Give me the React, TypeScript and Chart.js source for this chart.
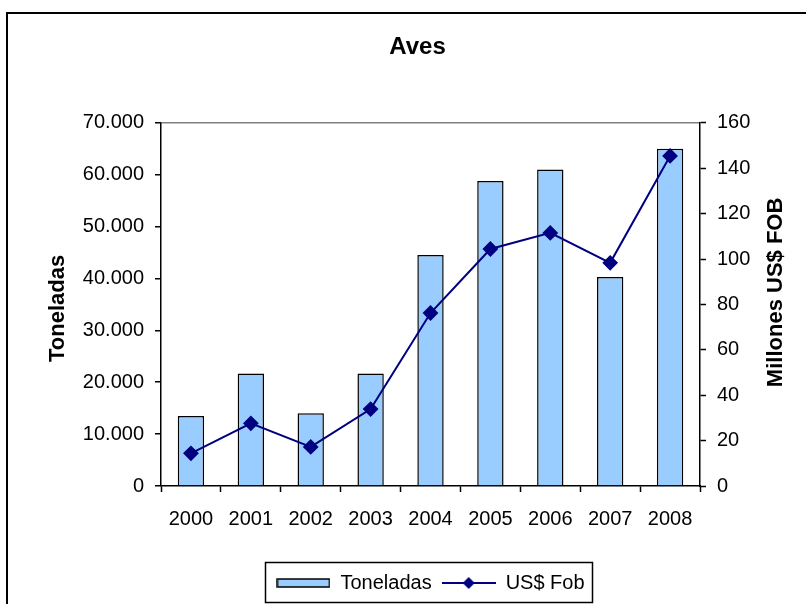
import { useEffect, useRef } from 'react';
import { Chart, registerables } from 'chart.js';

Chart.register(...registerables);

const chartTitle = 'Aves';
const years = ['2000', '2001', '2002', '2003', '2004', '2005', '2006', '2007', '2008'];
const toneladas = [13500, 21700, 14000, 21700, 44500, 58800, 61000, 40300, 65000];
const usdFob = [14.4, 27.6, 17.2, 33.9, 76.2, 104.4, 111.5, 98.3, 145.4];
const seriesNames = ['Toneladas', 'US$ Fob'];
const leftAxisTitle = 'Toneladas';
const rightAxisTitle = 'Millones US$ FOB';
const leftMax = 70000;
const leftStep = 10000;
const rightMax = 160;
const rightStep = 20;

const FONT = '"Liberation Sans", Arial, sans-serif';
const BAR_FILL = '#99CCFF';
const LINE_COLOR = '#000080';

function fmtThousands(v: number): string {
  const s = Math.round(v).toString();
  return s.replace(/\B(?=(\d{3})+(?!\d))/g, '.');
}

function makeBarSwatch(): HTMLCanvasElement {
  const c = document.createElement('canvas');
  c.width = 54;
  c.height = 10;
  const g = c.getContext('2d')!;
  g.fillStyle = BAR_FILL;
  g.fillRect(1, 1, 52, 8);
  g.strokeStyle = '#000';
  g.lineWidth = 1.5;
  g.strokeRect(1, 1, 52, 8);
  return c;
}

function makeLineSwatch(): HTMLCanvasElement {
  const c = document.createElement('canvas');
  c.width = 54;
  c.height = 14;
  const g = c.getContext('2d')!;
  g.strokeStyle = LINE_COLOR;
  g.lineWidth = 2;
  g.beginPath();
  g.moveTo(0, 7);
  g.lineTo(54, 7);
  g.stroke();
  g.fillStyle = LINE_COLOR;
  g.beginPath();
  g.moveTo(27, 1);
  g.lineTo(33, 7);
  g.lineTo(27, 13);
  g.lineTo(21, 7);
  g.closePath();
  g.fill();
  return c;
}

function drawVerticalTitle(ctx: CanvasRenderingContext2D, text: string, x: number, y: number) {
  ctx.save();
  ctx.translate(x, y);
  ctx.rotate(-Math.PI / 2);
  ctx.font = 'bold 22px ' + FONT;
  ctx.fillStyle = '#000';
  ctx.textAlign = 'center';
  ctx.textBaseline = 'middle';
  ctx.fillText(text, 0, 0);
  ctx.restore();
}

const framePlugin = {
  id: 'framePlugin',
  beforeDraw(chart: any) {
    const ctx = chart.ctx;
    ctx.save();
    ctx.fillStyle = '#fff';
    ctx.fillRect(0, 0, chart.width, chart.height);
    ctx.strokeStyle = '#000';
    ctx.lineWidth = 2;
    ctx.strokeRect(7, 13, chart.width + 40, chart.height + 40);
    ctx.restore();
  },
  afterDraw(chart: any) {
    const ctx = chart.ctx;
    const midY = (chart.chartArea.top + chart.chartArea.bottom) / 2;
    const yl = chart.scales.y;
    if (yl) drawVerticalTitle(ctx, leftAxisTitle, yl.left + 12, midY + 4);
    const yr = chart.scales.y1;
    if (yr) drawVerticalTitle(ctx, rightAxisTitle, yr.right - 13, midY - 12);

    const lg = chart.legend;
    if (!lg || !lg.legendHitBoxes || !lg.legendHitBoxes.length) return;
    const boxes = lg.legendHitBoxes;
    const left = boxes[0].left - 11;
    const last = boxes[boxes.length - 1];
    const right = last.left + last.width + 8;
    ctx.save();
    ctx.strokeStyle = '#000';
    ctx.lineWidth = 1.5;
    ctx.strokeRect(Math.round(left) + 0.5, Math.round(lg.top) - 0.5, Math.round(right - left), Math.round(lg.bottom - lg.top));
    ctx.restore();
  },
};

export default function App() {
  const ref = useRef<HTMLCanvasElement>(null);

  useEffect(() => {
    if (!ref.current) return;
    Chart.defaults.font.family = FONT;
    Chart.defaults.color = '#000';
    const barSwatch = makeBarSwatch();
    const lineSwatch = makeLineSwatch();

    const chart = new Chart(ref.current, {
      type: 'bar',
      data: {
        labels: years,
        datasets: [
          {
            type: 'bar',
            label: seriesNames[0],
            data: toneladas,
            backgroundColor: BAR_FILL,
            borderColor: '#000',
            borderWidth: 1.5,
            barPercentage: 0.44,
            categoryPercentage: 1,
            yAxisID: 'y',
            order: 1,
          },
          {
            type: 'line',
            label: seriesNames[1],
            data: usdFob,
            borderColor: LINE_COLOR,
            backgroundColor: LINE_COLOR,
            borderWidth: 2,
            pointStyle: 'rectRot',
            pointRadius: 6.5,
            pointBackgroundColor: LINE_COLOR,
            pointBorderColor: LINE_COLOR,
            tension: 0,
            yAxisID: 'y1',
            order: 0,
          } as any,
        ],
      },
      options: {
        responsive: false,
        animation: false,
        layout: { padding: { left: 46, right: 17, top: 0, bottom: 1 } },
        plugins: {
          title: {
            display: true,
            text: chartTitle,
            color: '#000',
            font: { size: 24, weight: 'bold', family: FONT },
            padding: { top: 33, bottom: 61 },
          },
          legend: {
            position: 'bottom',
            fullSize: false,
            labels: {
              usePointStyle: true,
              pointStyleWidth: 54,
              boxHeight: 20,
              padding: 10,
              color: '#000',
              font: { size: 20, family: FONT },
              generateLabels: () => [
                { text: seriesNames[0], pointStyle: barSwatch as any, datasetIndex: 0, fillStyle: BAR_FILL, strokeStyle: '#000', lineWidth: 0, hidden: false, fontColor: '#000' },
                { text: seriesNames[1], pointStyle: lineSwatch as any, datasetIndex: 1, fillStyle: LINE_COLOR, strokeStyle: LINE_COLOR, lineWidth: 0, hidden: false, fontColor: '#000' },
              ],
            },
          },
          tooltip: { enabled: false },
        },
        scales: {
          x: {
            offset: true,
            grid: { offset: true, display: true, drawOnChartArea: false, tickLength: 6, tickColor: '#000', tickWidth: 1.5 },
            border: { color: '#000', width: 1.5 },
            ticks: { color: '#000', font: { size: 20, family: FONT }, padding: 15, maxRotation: 0, autoSkip: false },
            afterFit: (s: any) => { s.height = 77; },
          },
          y: {
            position: 'left',
            min: 0,
            max: leftMax,
            ticks: {
              stepSize: leftStep,
              color: '#000',
              padding: 11,
              font: { size: 20, family: FONT },
              callback: (v: any) => fmtThousands(Number(v)),
            },
            grid: {
              color: (c: any) => (c.tick && c.tick.value === leftMax ? '#808080' : 'rgba(0,0,0,0)'),
              lineWidth: 1.5,
              tickColor: '#000',
              tickLength: 6,
              tickWidth: 1.5,
            },
            border: { color: '#000', width: 1.5 },
            title: { display: false },
            afterFit: (s: any) => { s.width = 115; },
          },
          y1: {
            position: 'right',
            min: 0,
            max: rightMax,
            ticks: {
              stepSize: rightStep,
              color: '#000',
              padding: 11,
              font: { size: 20, family: FONT },
            },
            grid: { drawOnChartArea: false, tickColor: '#000', tickLength: 6, tickWidth: 1.5 },
            border: { color: '#000', width: 1.5 },
            title: { display: false },
            afterFit: (s: any) => { s.width = 89; },
          },
        },
      } as any,
      plugins: [framePlugin],
    });
    return () => chart.destroy();
  }, []);

  return (
    <canvas
      ref={ref}
      width={806}
      height={604}
      style={{ position: 'fixed', left: 0, top: 0, display: 'block' }}
    />
  );
}
